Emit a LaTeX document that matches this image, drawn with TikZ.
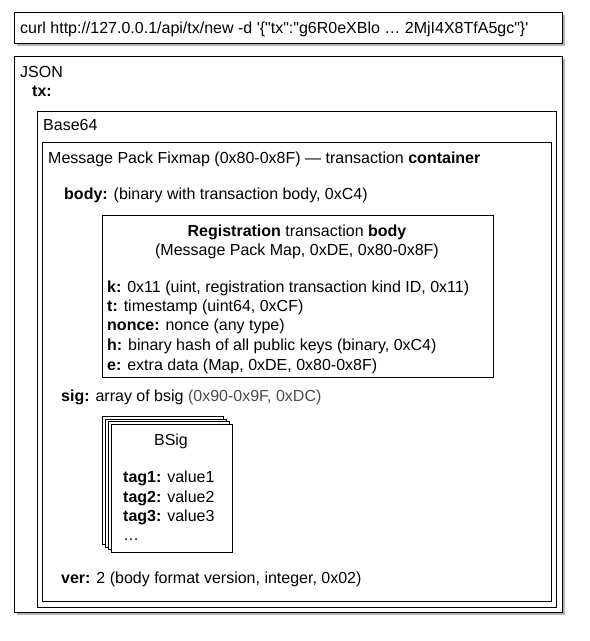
\documentclass[tikz,border=0pt]{standalone}
\usepackage{fontspec}
\setmainfont{Liberation Sans}
\newfontfamily\curlfont{Liberation Sans}
\usetikzlibrary{shadows}
\tikzset{
  box/.style={draw=black, line width=1pt, fill=white, anchor=north west, inner sep=0pt},
  shbox/.style={box, drop shadow={shadow xshift=2pt, shadow yshift=-2pt, fill=black, opacity=0.3}},
  txt/.style={inner sep=0pt, anchor=base west, font=\fontsize{16}{19}\selectfont},
  ctxt/.style={txt, anchor=base}
}
\begin{document}
\begin{tikzpicture}[x=1pt,y=-1pt]
\useasboundingbox (0,0) rectangle (590,641);
% curl box
\node[shbox, minimum width=548pt, minimum height=31pt] (curl) at (14,12) {};
\node[txt] (curltxt) at (20,33) {\curlfont curl http://127.0.0.1/api/tx/new -d '\{"tx":"g6R0eXBlo … 2MjI4X8TfA5gc"\}'};
% JSON box
\node[shbox, minimum width=548pt, minimum height=556pt] (json) at (14,56) {};
\node[txt] (jsonlbl) at (20,77) {JSON};
\node[txt] (txlbl) at (32,96) {\textbf{tx:}};
% Base64 box
\node[box, minimum width=519pt, minimum height=496pt] (b64) at (37,111) {};
\node[txt] (b64lbl) at (43,130) {Base64};
% MsgPack box
\node[box, minimum width=509pt, minimum height=459pt] (mp) at (42,142) {};
\node[txt] (mplbl) at (48,163) {Message Pack Fixmap (0x80-0x8F) — transaction \textbf{container}};
\node[txt] (bodylbl) at (64,199) {\textbf{body:} (binary with transaction body, 0xC4)};
% Registration box
\node[box, minimum width=391pt, minimum height=162pt] (reg) at (102,215) {};
\node[ctxt] (regt1) at (297,236) {\textbf{Registration} transaction \textbf{body}};
\node[ctxt] (regt2) at (297,255) {(Message Pack Map, 0xDE, 0x80-0x8F)};
\node[txt] (k) at (107,292) {\textbf{k:} 0x11 (uint, registration transaction kind ID, 0x11)};
\node[txt] (t) at (107,311) {\textbf{t:} timestamp (uint64, 0xCF)};
\node[txt] (nonce) at (107,330) {\textbf{nonce:} nonce (any type)};
\node[txt] (h) at (107,350) {\textbf{h:} binary hash of all public keys (binary, 0xC4)};
\node[txt] (e) at (107,370) {\textbf{e:} extra data (Map, 0xDE, 0x80-0x8F)};
% sig
\node[txt] (siglbl) at (61,401) {\textbf{sig:} array of bsig {\color{black!70}(0x90-0x9F, 0xDC)}};
% BSig stack
\node[box, minimum width=121pt, minimum height=128pt] (bs1) at (102,416) {};
\node[box, minimum width=121pt, minimum height=128pt] (bs2) at (105,419) {};
\node[box, minimum width=121pt, minimum height=128pt] (bs3) at (108,421) {};
\node[box, minimum width=121pt, minimum height=128pt] (bs4) at (111,424) {};
\node[ctxt] (bsiglbl) at (171,445) {BSig};
\node[txt] (tag1) at (123,482) {\textbf{tag1:} value1};
\node[txt] (tag2) at (123,502) {\textbf{tag2:} value2};
\node[txt] (tag3) at (123,521) {\textbf{tag3:} value3};
\node[txt] (dots) at (123,540) {…};
% ver
\node[txt] (verlbl) at (61,583) {\textbf{ver:} 2 (body format version, integer, 0x02)};
\end{tikzpicture}
\end{document}
